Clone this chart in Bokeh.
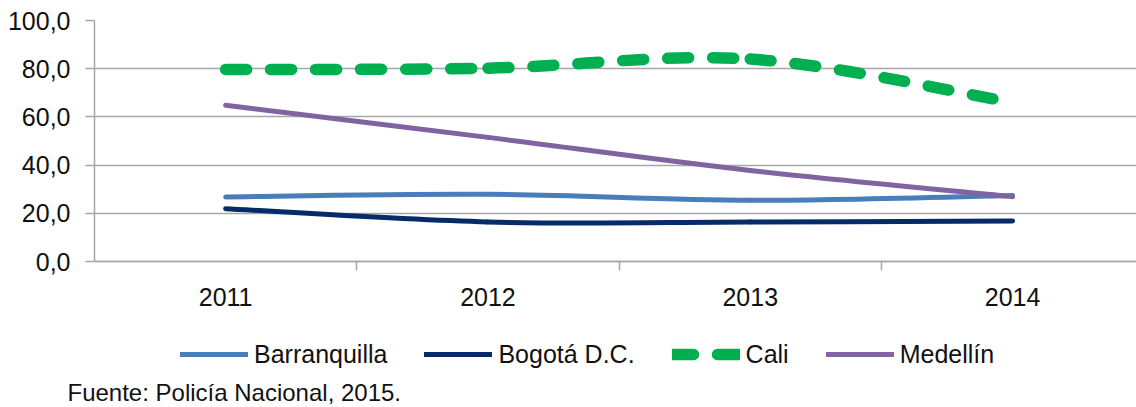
from bokeh.plotting import figure
from bokeh.models import FixedTicker, Legend, LegendItem, Title, Range1d
from bokeh.embed import file_html
from bokeh.resources import INLINE

years = ["2011", "2012", "2013", "2014"]
barranquilla = [26.8, 27.9, 25.4, 27.4]
bogota = [21.9, 16.4, 16.4, 16.8]
cali = [79.7, 80.2, 84.0, 66.0]
medellin = [64.8, 51.5, 37.8, 26.9]
y_ticks = [0, 20, 40, 60, 80, 100]
y_labels = ["0,0", "20,0", "40,0", "60,0", "80,0", "100,0"]
source_text = "Fuente: Policía Nacional, 2015."

FONT = "Liberation Sans Narrow, Arial Narrow, Liberation Sans"
GRID = "#a6a6a6"

LEFT = 94           # y axis position
TOP = 20            # frame top (value 100)
PLOT_H = 241        # pixels from value 100 to value 0
FRAME_H = 355       # frame extends below the x axis to hold the legend
FRAME_W = 1042
CAT_W = 262.3       # pixels per category
PX_PER_UNIT = PLOT_H / 100.0

xs = list(range(len(years)))


def smooth(xv, yv):
    """Catmull-Rom style control points (as Excel's smoothed line)."""
    n = len(xv)
    d = dict(x0=[], y0=[], x1=[], y1=[], cx0=[], cy0=[], cx1=[], cy1=[])
    for i in range(n - 1):
        pm = max(i - 1, 0)
        pp = min(i + 2, n - 1)
        d["x0"].append(xv[i]); d["y0"].append(yv[i])
        d["x1"].append(xv[i + 1]); d["y1"].append(yv[i + 1])
        d["cx0"].append(xv[i] + (xv[i + 1] - xv[pm]) / 6)
        d["cy0"].append(yv[i] + (yv[i + 1] - yv[pm]) / 6)
        d["cx1"].append(xv[i + 1] - (xv[pp] - xv[i]) / 6)
        d["cy1"].append(yv[i + 1] - (yv[pp] - yv[i]) / 6)
    return d


p = figure(frame_width=FRAME_W, frame_height=FRAME_H,
           x_range=Range1d(-0.5, -0.5 + FRAME_W / CAT_W),
           y_range=Range1d(-(FRAME_H - PLOT_H) / PX_PER_UNIT, 100),
           min_border_left=LEFT, min_border_right=0,
           min_border_top=TOP, min_border_bottom=0,
           output_backend="svg", toolbar_location=None)
p.outline_line_color = None
p.xgrid.visible = False
p.ygrid.ticker = FixedTicker(ticks=y_ticks)
p.ygrid.grid_line_color = GRID
p.ygrid.grid_line_width = 1.5

# y axis
p.yaxis.ticker = FixedTicker(ticks=y_ticks)
p.yaxis.bounds = (0, 100)
p.yaxis.major_label_overrides = {t: l for t, l in zip(y_ticks, y_labels)}
p.yaxis.axis_line_color = GRID
p.yaxis.axis_line_width = 1.5
p.yaxis.major_tick_line_color = GRID
p.yaxis.major_tick_line_width = 1.5
p.yaxis.major_tick_out = 9
p.yaxis.major_tick_in = 0
p.yaxis.minor_tick_line_color = None
p.yaxis.major_label_standoff = 15
p.yaxis.major_label_text_font = FONT
p.yaxis.major_label_text_font_size = "25px"
p.yaxis.major_label_text_color = "#111111"

# x axis, pinned at value 0
p.xaxis.fixed_location = 0
p.xaxis.ticker = FixedTicker(ticks=xs, minor_ticks=[x + 0.5 for x in xs])
p.xaxis.major_label_overrides = {x: y for x, y in zip(xs, years)}
p.xaxis.axis_line_color = GRID
p.xaxis.axis_line_width = 1.5
p.xaxis.major_tick_line_color = None
p.xaxis.major_tick_out = 0
p.xaxis.major_tick_in = 0
p.xaxis.minor_tick_line_color = GRID
p.xaxis.minor_tick_line_width = 1.5
p.xaxis.minor_tick_out = 9
p.xaxis.minor_tick_in = 0
p.xaxis.major_label_standoff = 17
p.xaxis.major_label_text_font = FONT
p.xaxis.major_label_text_font_size = "25px"
p.xaxis.major_label_text_color = "#111111"

r_bar = p.bezier(source=smooth(xs, barranquilla), x0="x0", y0="y0", x1="x1", y1="y1",
                 cx0="cx0", cy0="cy0", cx1="cx1", cy1="cy1",
                 line_color="#4a7ebb", line_width=5, line_cap="round")
r_bog = p.bezier(source=smooth(xs, bogota), x0="x0", y0="y0", x1="x1", y1="y1",
                 cx0="cx0", cy0="cy0", cx1="cx1", cy1="cy1",
                 line_color="#072a68", line_width=5, line_cap="round")
r_med = p.bezier(source=smooth(xs, medellin), x0="x0", y0="y0", x1="x1", y1="y1",
                 cx0="cx0", cy0="cy0", cx1="cx1", cy1="cy1",
                 line_color="#8064a2", line_width=5, line_cap="round")
r_cali = p.bezier(source=smooth(xs, cali), x0="x0", y0="y0", x1="x1", y1="y1",
                  cx0="cx0", cy0="cy0", cx1="cx1", cy1="cy1",
                  line_color="#00b050", line_width=11.5, line_cap="round",
                  line_dash="21 24")

# legend: centre row at 354 px; frame bottom at TOP + FRAME_H
legend = Legend(items=[LegendItem(label="Barranquilla", renderers=[r_bar]),
                       LegendItem(label="Bogotá D.C.", renderers=[r_bog]),
                       LegendItem(label="Cali", renderers=[r_cali]),
                       LegendItem(label="Medellín", renderers=[r_med])],
                orientation="horizontal", location=(86, TOP + FRAME_H - 354 - 15),
                glyph_width=68, glyph_height=30, label_height=30,
                label_standoff=6, spacing=37, padding=0, margin=0,
                border_line_color=None, background_fill_alpha=0,
                label_text_font=FONT, label_text_font_size="25px",
                label_text_color="#111111", label_text_baseline="middle")
p.add_layout(legend, "center")

p.add_layout(Title(text=source_text, align="left", offset=-27, standoff=3,
                   text_font="Liberation Sans", text_font_size="24px",
                   text_font_style="normal", text_color="#111111"), "below")

open("out.html", "w").write(file_html(p, INLINE))
